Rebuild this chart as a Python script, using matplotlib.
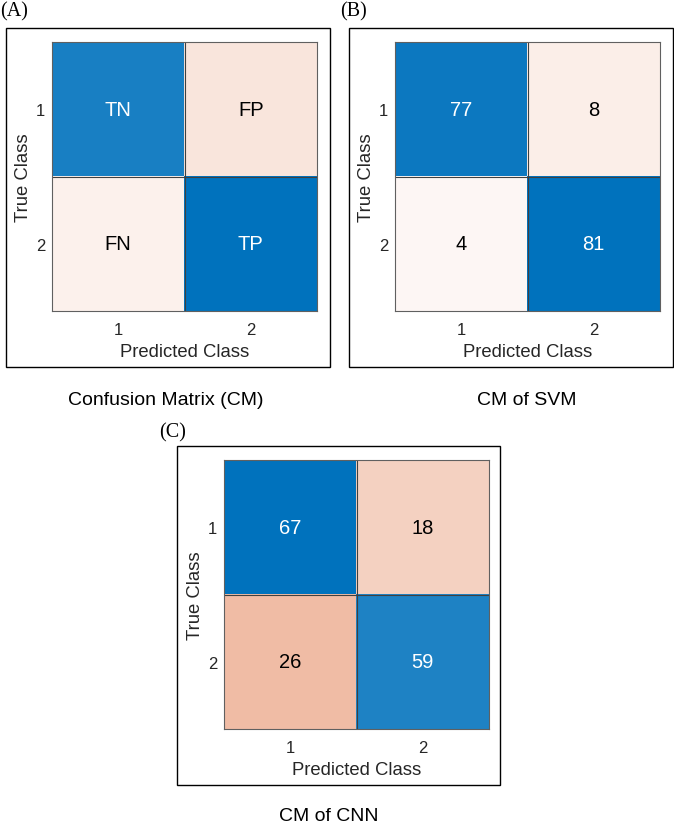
import numpy as np
import matplotlib
matplotlib.use('Agg')
import matplotlib.pyplot as plt
from matplotlib.colors import LinearSegmentedColormap
from matplotlib.patches import Rectangle

plt.rcParams['font.family'] = ['Liberation Sans', 'DejaVu Sans']

classes = ['1', '2']

# panel A: labels only, shading (fraction of max)
cm_labels = [['TN', 'FP'], ['FN', 'TP']]
cm_shade = np.array([[0.90, 0.15], [0.08, 1.00]])

svm_counts = np.array([[77, 8], [4, 81]])
cnn_counts = np.array([[67, 18], [26, 59]])

blues = LinearSegmentedColormap.from_list('mblue', ['#ffffff', '#0072bd'])
reds = LinearSegmentedColormap.from_list('mred', ['#ffffff', '#d95319'])

W, H = 674, 829
fig = plt.figure(figsize=(W / 100, H / 100), dpi=100)


def fig_rect(x0, y0, x1, y1):
    # pixel box -> figure fraction [left, bottom, width, height]
    return [x0 / W, 1 - y1 / H, (x1 - x0) / W, (y1 - y0) / H]


def draw_cm(box, heat, frac, texts, tag, tag_xy, caption, cap_xy):
    # outer frame
    l, b, w, h = fig_rect(*box)
    fig.add_artist(Rectangle((l, b), w, h, transform=fig.transFigure,
                             fill=False, ec='black', lw=1.0))
    ax = fig.add_axes(fig_rect(*heat))
    rgb = np.zeros((2, 2, 4))
    for i in range(2):
        for j in range(2):
            cmap = blues if i == j else reds
            rgb[i, j] = cmap(frac[i, j])
    ax.imshow(rgb, aspect='auto', extent=(0.5, 2.5, 2.5, 0.5))
    for i in range(2):
        for j in range(2):
            col = 'white' if i == j and frac[i, j] > 0.5 else 'black'
            ax.text(j + 1, i + 1, texts[i][j], ha='center', va='center',
                    fontsize=14.5, color=col)
    ax.axhline(1.5, color='#404040', lw=0.8)
    ax.axvline(1.5, color='#404040', lw=0.8)
    for s in ax.spines.values():
        s.set_color('#606060')
        s.set_linewidth(0.8)
    ax.set_xticks([1, 2])
    ax.set_xticklabels(classes)
    ax.set_yticks([1, 2])
    ax.set_yticklabels(classes)
    ax.tick_params(length=0, labelsize=12, colors='#262626')
    ax.tick_params(axis='x', pad=8)
    ax.tick_params(axis='y', pad=5)
    ax.set_xlabel('Predicted Class', fontsize=13.3, color='#262626', labelpad=4)
    ax.set_ylabel('True Class', fontsize=13.3, color='#262626', labelpad=3)
    fig.text(tag_xy[0] / W, 1 - tag_xy[1] / H, tag, family='Liberation Serif',
             fontsize=14.5, ha='left', va='center')
    fig.text(cap_xy[0] / W, 1 - cap_xy[1] / H, caption, fontsize=14,
             ha='center', va='center')


draw_cm((6, 29, 330, 368), (52, 43, 317, 312), cm_shade, cm_labels,
        '(A)', (0, 12), 'Confusion Matrix (CM)', (166, 401))

svm_frac = svm_counts / svm_counts.max()
draw_cm((349, 29, 673, 368), (395, 43, 660, 312), svm_frac,
        svm_counts.astype(str).tolist(), '(B)', (340, 12), 'CM of SVM', (527, 401))

cnn_frac = cnn_counts / cnn_counts.max()
draw_cm((177, 447, 500, 786), (224, 461, 489, 730), cnn_frac,
        cnn_counts.astype(str).tolist(), '(C)', (159, 433), 'CM of CNN', (329, 817))

fig.savefig('out.png', dpi=100)
